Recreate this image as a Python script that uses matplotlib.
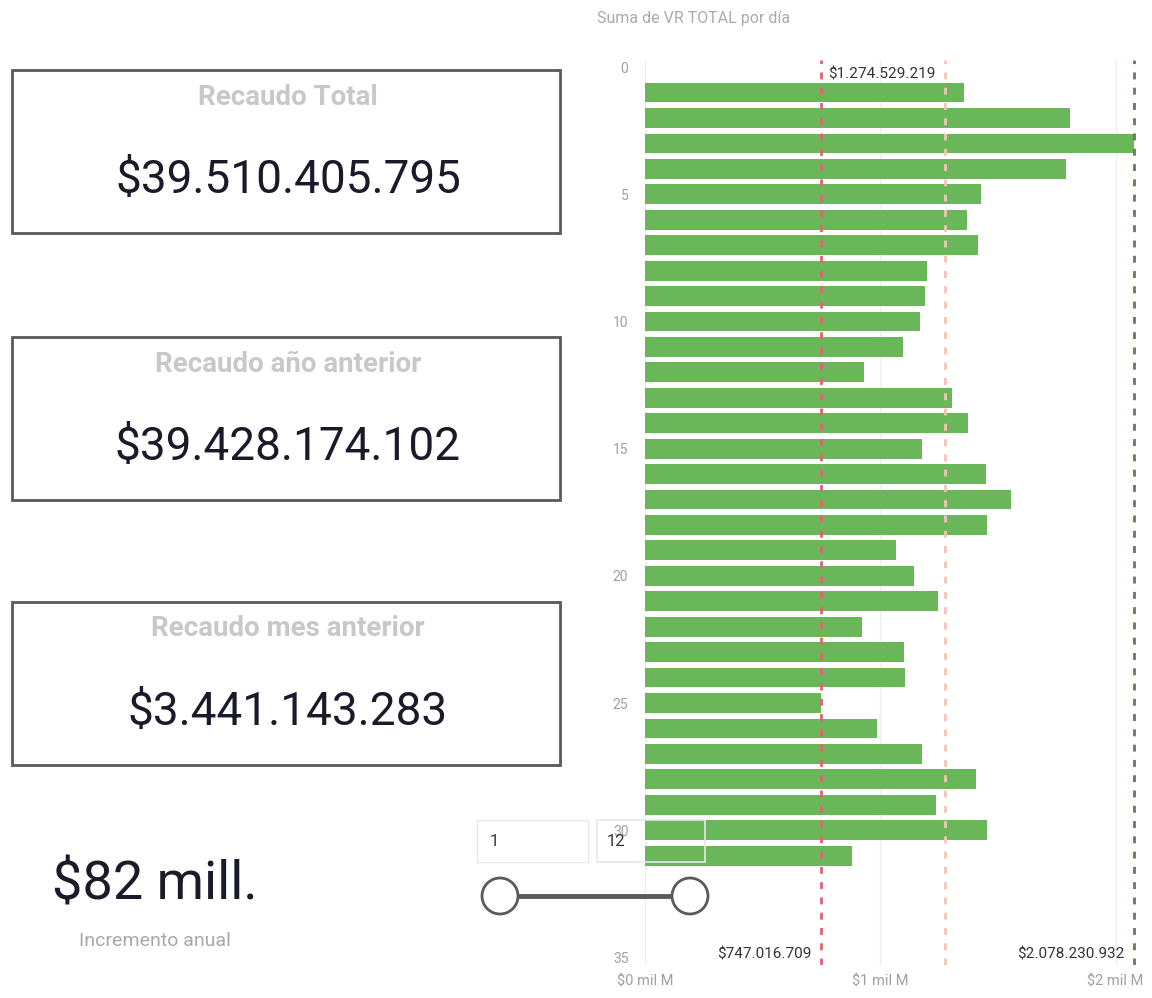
import matplotlib.pyplot as plt
from matplotlib.patches import Rectangle, Circle

# Suma de VR TOTAL por dia (millones de pesos), dias 1..31
dias = list(range(1, 32))
recaudo_dia = [1355, 1806, 2078, 1789, 1427, 1368, 1414, 1198, 1189, 1168,
               1095, 930, 1304, 1372, 1176, 1449, 1555, 1453, 1066, 1142,
               1244, 921, 1099, 1104, 747, 985, 1176, 1406, 1236, 1453, 879]

# reference lines (min, promedio, max) in millions
ref_min = 747.016709
ref_avg = 1274.529219
ref_max = 2078.230932
ref_labels = ["$747.016.709", "$1.274.529.219", "$2.078.230.932"]

x_ticks = [0, 1000, 2000]
x_tick_labels = ["$0 mil M", "$1 mil M", "$2 mil M"]
y_ticks = [0, 5, 10, 15, 20, 25, 30, 35]

card_titles = ["Recaudo Total", "Recaudo año anterior", "Recaudo mes anterior"]
card_values = ["$39.510.405.795", "$39.428.174.102", "$3.441.143.283"]
kpi_value = "$82 mill."
kpi_label = "Incremento anual"
slider_values = ["1", "12"]

W, H = 1152, 998
fig = plt.figure(figsize=(W / 100, H / 100), dpi=100)
plt.rcParams['font.family'] = ['Roboto', 'DejaVu Sans']

# Step 1: bar chart by day
ax = fig.add_axes([645 / W, 1 - 965 / H, (1141 - 645) / W, 905 / H])
ax.barh(dias, recaudo_dia, height=0.78, color='#6ab75a', zorder=2)
ax.set_xlim(0, 2108)
ax.set_ylim(35.3, -0.28)
ax.set_xticks(x_ticks)
ax.set_xticklabels(x_tick_labels, color='#a0a0a0', fontsize=10.5)
ax.set_yticks(y_ticks)
ax.set_yticklabels([str(t) for t in y_ticks], color='#a0a0a0', fontsize=10)
ax.tick_params(length=0, pad=12)
ax.tick_params(axis='x', pad=7)
for s in ax.spines.values():
    s.set_visible(False)
ax.grid(axis='x', color='#eeeeee', linewidth=1, zorder=0)

ax.axvline(ref_min, color='#e06470', linestyle=(0, (2.5, 3)), linewidth=2, zorder=3)
ax.axvline(ref_avg, color='#f6c3b5', linestyle=(0, (2.5, 3)), linewidth=2, zorder=3)
ax.axvline(ref_max, color='#5f7f55', linestyle=(0, (2.5, 3)), linewidth=2, zorder=3)
ax.text(ref_min + 30, 0.3, ref_labels[1], fontsize=11, color='#333333', va='center', ha='left')
ax.text(ref_min - 40, 34.9, ref_labels[0], fontsize=11, color='#333333', va='center', ha='right')
ax.text(ref_max - 40, 34.9, ref_labels[2], fontsize=11, color='#333333', va='center', ha='right')

fig.text(597 / W, 1 - 18 / H, "Suma de VR TOTAL por día", fontsize=11.5,
         color='#aaaaaa', va='center')

# Step 2: cards and slider on an overlay in pixel coords
ov = fig.add_axes([0, 0, 1, 1])
ov.set_xlim(0, W)
ov.set_ylim(H, 0)
ov.axis('off')
ov.patch.set_alpha(0)

card_tops = [70, 337, 602]
for top, title, value in zip(card_tops, card_titles, card_values):
    ov.add_patch(Rectangle((12, top), 548, 163, fill=False, edgecolor='#5a5a5a', linewidth=2))
    ov.text(288, top + 27, title, fontsize=20, fontweight='bold', color='#c8c8c8', ha='center', va='center')
    ov.text(288, top + 110, value, fontsize=33, color='#1a1a2a', ha='center', va='center')

ov.text(155, 885, kpi_value, fontsize=39, color='#1a1a2a', ha='center', va='center')
ov.text(155, 941, kpi_label, fontsize=14, color='#a8a8a8', ha='center', va='center')

# slider
ov.add_patch(Rectangle((477, 820), 111, 42, facecolor='white', edgecolor='#e8e8e8', linewidth=1))
ov.add_patch(Rectangle((597, 820), 108, 42, fill=False, edgecolor='#e8e8e8', linewidth=1.2))
ov.text(490, 842, slider_values[0], fontsize=12, color='#333333', va='center')
ov.text(607, 842, slider_values[1], fontsize=12, color='#333333', va='center')
ov.plot([518, 672], [896, 896], color='#5a5a5a', linewidth=3.5, solid_capstyle='butt')
for cx in [500, 690]:
    ov.add_patch(Circle((cx, 896), 18, facecolor='white', edgecolor='#5a5a5a', linewidth=2))

plt.savefig('out.png', dpi=100)
